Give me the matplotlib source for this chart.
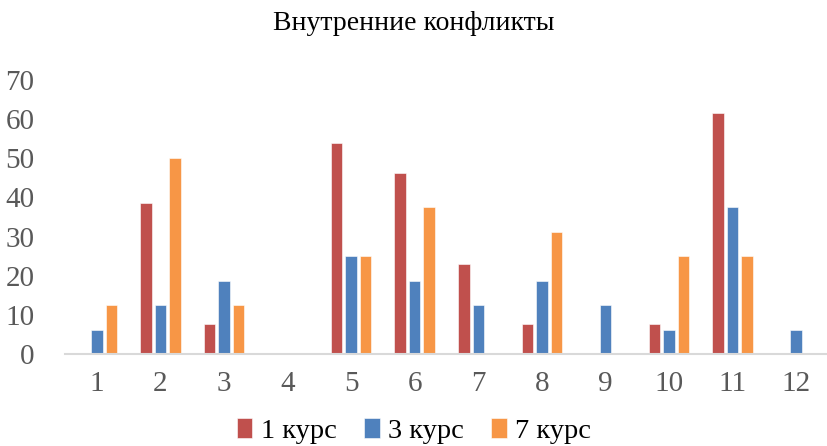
import numpy as np
import matplotlib
matplotlib.use("Agg")
import matplotlib.pyplot as plt

categories = ["1", "2", "3", "4", "5", "6", "7", "8", "9", "10", "11", "12"]
kurs1 = [0, 38.46, 7.69, 0, 53.85, 46.15, 23.08, 7.69, 0, 7.69, 61.54, 0]
kurs3 = [6.25, 12.5, 18.75, 0, 25, 18.75, 12.5, 18.75, 12.5, 6.25, 37.5, 6.25]
kurs7 = [12.5, 50, 12.5, 0, 25, 37.5, 0, 31.25, 0, 25, 25, 0]
series_names = ["1 курс", "3 курс", "7 курс"]
colors = ["#C0504D", "#4F81BD", "#F79646"]

plt.rcParams["font.family"] = ["Liberation Serif", "DejaVu Serif"]

fig = plt.figure(figsize=(8.28, 4.46), dpi=100)
ax = fig.add_axes([0.0785, 0.2063, 0.9215, 0.6143])

x = np.arange(1, len(categories) + 1)
step = 0.228
width = 0.18
for i, (vals, name, c) in enumerate(zip([kurs1, kurs3, kurs7], series_names, colors)):
    ax.bar(x + (i - 1) * step, vals, width=width, color=c, label=name,
           edgecolor="white", linewidth=0.4)

ax.set_xlim(0.5, 12.5)
ax.set_ylim(0, 70)
ax.set_yticks(range(0, 71, 10))
ax.set_xticks(x)
ax.set_xticklabels(categories)
ax.tick_params(axis="both", length=0, labelsize=21, colors="#595959")
ax.tick_params(axis="y", pad=22)
ax.tick_params(axis="x", pad=12)
for s in ["top", "right", "left"]:
    ax.spines[s].set_visible(False)
ax.spines["bottom"].set_color("#D9D9D9")
ax.spines["bottom"].set_linewidth(1.5)

fig.text(0.5, 1 - 24 / 446, "Внутренние конфликты", ha="center", va="center",
         fontsize=20, color="#000000")

fig.legend(loc="center", bbox_to_anchor=(0.5, 1 - 431 / 446), ncol=3, frameon=False,
           fontsize=20.5, handlelength=0.55, handleheight=0.7, handletextpad=0.3,
           columnspacing=0.95, borderpad=0)

fig.savefig("out.png", dpi=100)
